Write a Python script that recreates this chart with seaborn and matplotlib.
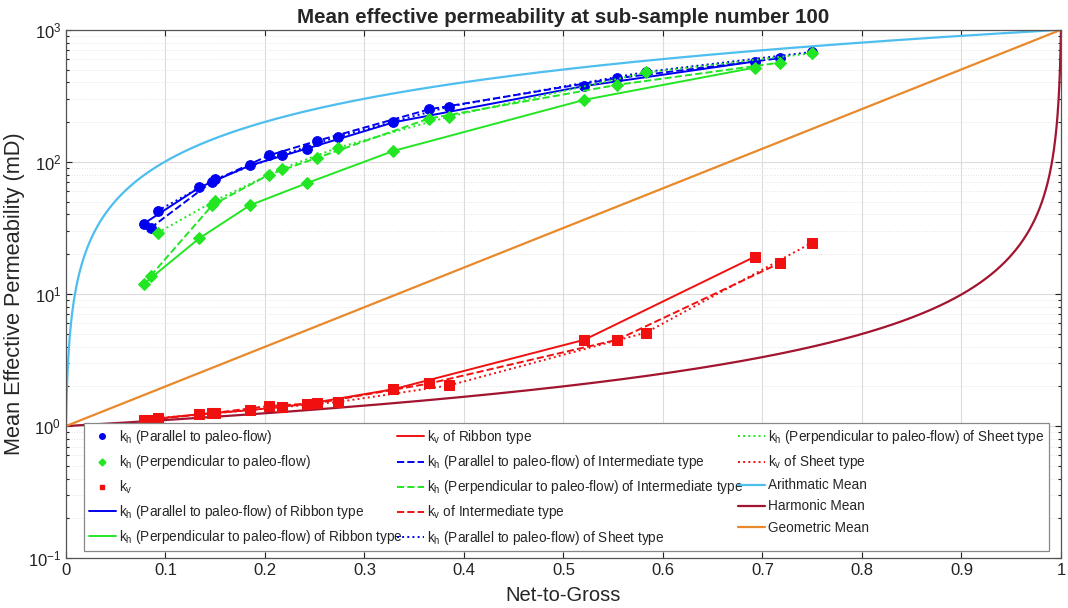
import numpy as np
import pandas as pd
import matplotlib
matplotlib.use("Agg")
import matplotlib.pyplot as plt
import seaborn as sns
from matplotlib.lines import Line2D
from matplotlib.ticker import LogLocator, NullFormatter

# ---------------- data ----------------
# Ribbon type (solid)
ntg_ribbon = [0.078, 0.134, 0.185, 0.242, 0.329, 0.521, 0.692]
kh_par_ribbon = [34, 64, 94, 126, 199, 375, 575]
kh_perp_ribbon = [11.9, 26.4, 47, 69, 121, 295, 517]
kv_ribbon = [1.11, 1.23, 1.32, 1.47, 1.90, 4.5, 19.1]

# Intermediate type (dashed)
ntg_inter = [0.085, 0.147, 0.204, 0.252, 0.365, 0.554, 0.718]
kh_par_inter = [31.6, 71, 112, 144, 250, 430, 610]
kh_perp_inter = [13.7, 47, 80, 107, 213, 383, 565]
kv_inter = [1.12, 1.25, 1.42, 1.49, 2.10, 4.5, 17.2]

# Sheet type (dotted)
ntg_sheet = [0.092, 0.150, 0.217, 0.273, 0.385, 0.583, 0.750]
kh_par_sheet = [42.6, 74, 113, 155, 262, 480, 680]
kh_perp_sheet = [29, 51, 89, 128, 220, 475, 665]
kv_sheet = [1.15, 1.25, 1.39, 1.52, 2.03, 5.1, 24.5]

# end-member permeabilities (mD) for theoretical mean curves
k_sand = 1000.0
k_shale = 1.0
ntg_curve = np.linspace(0.0, 1.0, 6001)

title = "Mean effective permeability at sub-sample number 100"
xlabel = "Net-to-Gross"
ylabel = "Mean Effective Permeability (mD)"
xtick_labels = ["0", "0.1", "0.2", "0.3", "0.4", "0.5", "0.6", "0.7", "0.8", "0.9", "1"]

# ---------------- style ----------------
sns.set_theme(style="whitegrid")
plt.rcParams["font.family"] = ["Liberation Sans", "DejaVu Sans"]
plt.rcParams["mathtext.default"] = "regular"

BLUE = "#0000f0"
GREEN = "#22e622"
RED = "#f01010"
CYAN = "#4DBEEE"
HARM = "#A2142F"
GEO = "#E8892B"

fig = plt.figure(figsize=(10.68, 6.08), dpi=100)
ax = fig.add_axes([0.0618, 0.082, 0.9316, 0.869])

arith = ntg_curve * k_sand + (1 - ntg_curve) * k_shale
harm = 1.0 / (ntg_curve / k_sand + (1 - ntg_curve) / k_shale)
geo = k_sand ** ntg_curve * k_shale ** (1 - ntg_curve)

sns.lineplot(x=ntg_curve, y=arith, color=CYAN, lw=1.6, ax=ax, sort=False, estimator=None)
sns.lineplot(x=ntg_curve, y=harm, color=HARM, lw=1.6, ax=ax, sort=False, estimator=None)
sns.lineplot(x=ntg_curve, y=geo, color=GEO, lw=1.6, ax=ax, sort=False, estimator=None)

series = [
    (ntg_ribbon, kh_par_ribbon, BLUE, "o", "-"),
    (ntg_ribbon, kh_perp_ribbon, GREEN, "D", "-"),
    (ntg_ribbon, kv_ribbon, RED, "s", "-"),
    (ntg_inter, kh_par_inter, BLUE, "o", "--"),
    (ntg_inter, kh_perp_inter, GREEN, "D", "--"),
    (ntg_inter, kv_inter, RED, "s", "--"),
    (ntg_sheet, kh_par_sheet, BLUE, "o", ":"),
    (ntg_sheet, kh_perp_sheet, GREEN, "D", ":"),
    (ntg_sheet, kv_sheet, RED, "s", ":"),
]
for xs, ys, c, m, ls in series:
    sns.lineplot(x=xs, y=ys, color=c, lw=1.4, linestyle=ls, ax=ax,
                 marker=m, markersize=7 if m != "D" else 6.5,
                 markeredgecolor=c, markerfacecolor=c, estimator=None)

ax.set_yscale("log")
ax.set_xlim(0, 1)
ax.set_ylim(0.1, 1000)
ax.set_xticks(np.round(np.arange(0, 1.01, 0.1), 1))
ax.set_xticklabels(xtick_labels)
ax.yaxis.set_major_locator(LogLocator(base=10, numticks=10))
ax.yaxis.set_minor_locator(LogLocator(base=10, subs=np.arange(2, 10), numticks=20))
ax.yaxis.set_minor_formatter(NullFormatter())

ax.grid(True, which="major", color="#dcdcdc", lw=0.8, ls="-")
ax.grid(True, which="minor", axis="y", color="#e4e4e4", lw=0.7, ls=":")
ax.tick_params(axis="both", which="both", direction="in", labelsize=12, colors="#222222",
               length=4, width=0.8, left=True, bottom=True, top=True, right=True)
ax.tick_params(axis="y", which="minor", length=2.5)
for s in ax.spines.values():
    s.set_color("#555555")
    s.set_linewidth(0.9)

ax.set_title(title, fontsize=14.8, fontweight="bold", pad=5)
ax.set_xlabel(xlabel, fontsize=14.5, labelpad=6)
ax.set_ylabel(ylabel, fontsize=15.7, labelpad=2)

def kh(s):
    return "k$_h$ " + s

handles = [
    Line2D([], [], ls="none", marker="o", color=BLUE, markersize=4),
    Line2D([], [], ls="none", marker="D", color=GREEN, markersize=3.5),
    Line2D([], [], ls="none", marker="s", color=RED, markersize=3.5),
    Line2D([], [], ls="-", color=BLUE, lw=1.4),
    Line2D([], [], ls="-", color=GREEN, lw=1.4),
    Line2D([], [], ls="-", color=RED, lw=1.4),
    Line2D([], [], ls="--", color=BLUE, lw=1.4),
    Line2D([], [], ls="--", color=GREEN, lw=1.4),
    Line2D([], [], ls="--", color=RED, lw=1.4),
    Line2D([], [], ls=":", color=BLUE, lw=1.4),
    Line2D([], [], ls=":", color=GREEN, lw=1.4),
    Line2D([], [], ls=":", color=RED, lw=1.4),
    Line2D([], [], ls="-", color=CYAN, lw=1.6),
    Line2D([], [], ls="-", color=HARM, lw=1.6),
    Line2D([], [], ls="-", color=GEO, lw=1.6),
]
labels = [
    kh("(Parallel to paleo-flow)"),
    kh("(Perpendicular to paleo-flow)"),
    "k$_v$",
    kh("(Parallel to paleo-flow) of Ribbon type"),
    kh("(Perpendicular to paleo-flow) of Ribbon type"),
    "k$_v$ of Ribbon type",
    kh("(Parallel to paleo-flow) of Intermediate type"),
    kh("(Perpendicular to paleo-flow) of Intermediate type"),
    "k$_v$ of Intermediate type",
    kh("(Parallel to paleo-flow) of Sheet type"),
    kh("(Perpendicular to paleo-flow) of Sheet type"),
    "k$_v$ of Sheet type",
    "Arithmatic Mean",
    "Harmonic Mean",
    "Geometric Mean",
]
leg = ax.legend(handles, labels, ncol=3, loc="lower left",
                bbox_to_anchor=(0.018, 0.013, 0.970, 0.252), mode="expand",
                fontsize=9.8, frameon=True, fancybox=False, framealpha=1,
                edgecolor="#888888", handlelength=2.0, handletextpad=0.2,
                labelspacing=0.52, borderaxespad=0, columnspacing=0.3,
                borderpad=0.35)
leg.get_frame().set_linewidth(0.9)

fig.savefig("out.png", dpi=100, facecolor="white")
